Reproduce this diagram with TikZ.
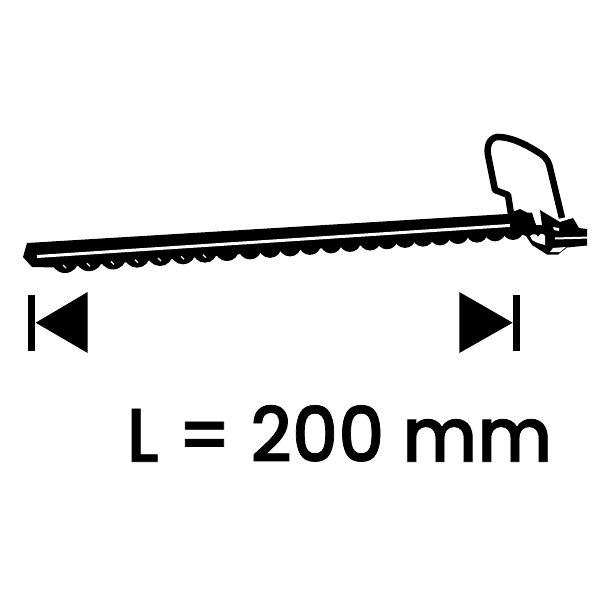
\documentclass[tikz,border=0pt]{standalone}
\usepackage{fontspec}
\setmainfont[WordSpace=0.95,FakeBold=1]{Poppins Medium}
\definecolor{sawblack}{RGB}{0,0,0}
\tikzstyle{handle} = [line width=6.5pt,line join=round,draw=sawblack]
\tikzstyle{solid black} = [fill=sawblack,draw=none]
\tikzstyle{gap} = [fill=white,draw=none]
\tikzstyle{endbar} = [fill=sawblack,draw=none,minimum width=6.5pt,minimum height=56pt,inner sep=0pt]

\begin{document}
\begin{tikzpicture}[x=1pt,y=-1pt]
\useasboundingbox (0,0) rectangle (600,600);

% Handle
\draw[handle] (511,214) -- (508,195) -- (495,190) -- (488,155)
  .. controls (486,143) and (492,136) .. (500,137)
  .. controls (515,138) and (530,147) .. (541,154)
  .. controls (547,158) and (549,163) .. (550,168) -- (562,218);

% Blade
\fill[solid black] (27,243) -- (532,212.5) -- (536,226) -- (534,233) -- (55,267.5) -- (32,267) -- (23,257) -- cycle;
\foreach \tx in {65,89,113,137,160,183,205,227,250,270,290,310,331,350,370,387,405,423,440,458,477,495,513} {
  \pgfmathsetmacro{\ty}{273-(\tx-65)*0.0737}
  \pgfmathsetmacro{\tr}{max(11,14-(\tx-65)*0.0115)}
  \fill[solid black] (\tx,\ty-\tr) circle[radius=\tr];
}
\foreach \tx in {65,89,113,137,160,183,205} {
  \pgfmathsetmacro{\ty}{267-(\tx-65)*0.0737}
  \draw[white,line width=1.2pt] (\tx-2,\ty-2) -- (\tx+1,\ty+1);
}
\draw[white,line width=3pt] (37,256.5) -- (532,224);

% Head
\fill[solid black] (510,213) -- (520,209) -- (532,215) -- (536,225) -- (542,225) -- (540,210) -- (560,222) -- (573,218) -- (579,228) -- (587,229) -- (587,245.5) -- (567,247.5) -- (558,254.5) -- (547,254.5) -- (532,245) -- (526,236) -- (510,230) -- cycle;
\fill[gap] (530,236) .. controls (533,233) and (537,234) .. (538,237) .. controls (540,233) and (543,233) .. (545,236) -- (545,245) -- (538,243) -- (532,240) -- cycle;
\fill[gap] (550,252) -- (553,248) -- (566,247) -- (560,252) -- cycle;
\fill[gap] (553,227) -- (559,228) -- (559,231) -- (554,230) -- cycle;
\draw[white,line width=2pt] (555,238.5) -- (590,237.5);

% Dimension marks
\node[endbar] (leftbar) at (31.7,323) {};
\node[endbar] (rightbar) at (516.5,323) {};
\fill[solid black] (35.7,322.7) -- (87.7,292) -- (87.7,353) -- cycle;
\fill[solid black] (512.7,322.7) -- (459.3,292) -- (459.3,353) -- cycle;

% Length label
\node[anchor=base west,inner sep=0pt,xscale=0.95,font=\fontsize{76}{76}\selectfont] (length) at (126.5,461.7) {L = 200 mm};
\end{tikzpicture}
\end{document}
